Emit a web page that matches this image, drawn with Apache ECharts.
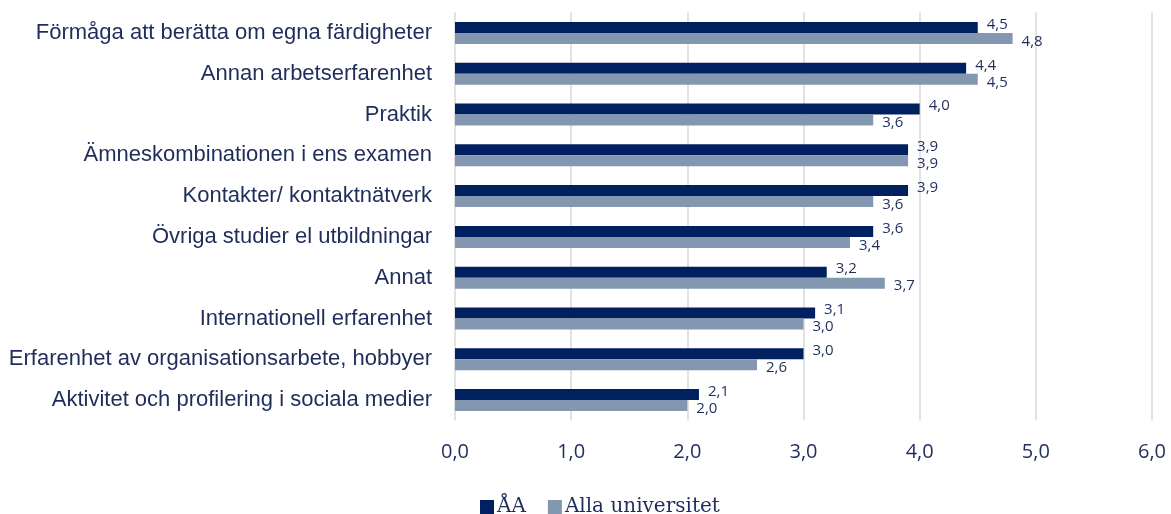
<!DOCTYPE html>
<html>
<head>
<meta charset="utf-8">
<script src="https://cdn.jsdelivr.net/npm/echarts@6/dist/echarts.min.js"></script>
<style>
    html, body { margin: 0; padding: 0; background: #fff; }
    #chart { width: 1171px; height: 514px; }
</style>
</head>
<body>
<div id="chart"></div>
<script>
    // kategorier (uppifrån och ned)
    var categories = [
        'Förmåga att berätta om egna färdigheter',
        'Annan arbetserfarenhet',
        'Praktik',
        'Ämneskombinationen i ens examen',
        'Kontakter/ kontaktnätverk',
        'Övriga studier el utbildningar',
        'Annat',
        'Internationell erfarenhet',
        'Erfarenhet av organisationsarbete, hobbyer',
        'Aktivitet och profilering i sociala medier'
    ];

    var seriesNames = ['ÅA', 'Alla universitet'];

    var aaValues = [4.5, 4.4, 4.0, 3.9, 3.9, 3.6, 3.2, 3.1, 3.0, 2.1];
    var allaValues = [4.8, 4.5, 3.6, 3.9, 3.6, 3.4, 3.7, 3.0, 2.6, 2.0];

    var axisTicks = [0, 1, 2, 3, 4, 5, 6];

    function komma(v) {
        return Number(v).toFixed(1).replace('.', ',');
    }

    var textColor = '#1f2d5a';

    var chart = echarts.init(document.getElementById('chart'));

    var option = {
        backgroundColor: '#fff',
        animation: false,
        grid: {
            left: 455,
            right: 19,
            top: 12.6,
            bottom: 93.6,
            containLabel: false
        },
        legend: {
            data: seriesNames,
            left: 475,
            top: 492,
            icon: 'rect',
            itemWidth: 14,
            itemHeight: 14,
            itemGap: 22,
            textStyle: {
                fontFamily: 'DejaVu Serif',
                fontSize: 20,
                color: textColor,
                padding: [0, 0, 0, -2]
            }
        },
        xAxis: {
            type: 'value',
            min: axisTicks[0],
            max: axisTicks[axisTicks.length - 1],
            interval: 1,
            axisLine: { show: false },
            axisTick: { show: false },
            splitLine: { lineStyle: { color: '#d9d9d9', width: 1.5 } },
            axisLabel: {
                margin: 22,
                fontFamily: 'Open Sans',
                fontSize: 20,
                color: textColor,
                formatter: komma
            }
        },
        yAxis: {
            type: 'category',
            data: categories,
            inverse: true,
            axisLine: { show: false },
            axisTick: { show: false },
            splitLine: { show: false },
            axisLabel: {
                margin: 23,
                fontFamily: 'Liberation Sans',
                fontSize: 22,
                color: textColor
            }
        },
        series: [{
            name: seriesNames[0],
            type: 'bar',
            data: aaValues,
            barWidth: 11,
            barGap: '0%',
            itemStyle: { color: '#002060' },
            label: {
                show: true,
                position: 'right',
                distance: 9,
                offset: [0, -3],
                fontFamily: 'Open Sans',
                fontSize: 15,
                color: textColor,
                formatter: function (p) { return komma(p.value); }
            }
        }, {
            name: seriesNames[1],
            type: 'bar',
            data: allaValues,
            barWidth: 11,
            barGap: '0%',
            itemStyle: { color: '#8497b0' },
            label: {
                show: true,
                position: 'right',
                distance: 9,
                offset: [0, 3],
                fontFamily: 'Open Sans',
                fontSize: 15,
                color: textColor,
                formatter: function (p) { return komma(p.value); }
            }
        }]
    };

    chart.setOption(option);
</script>
</body>
</html>
